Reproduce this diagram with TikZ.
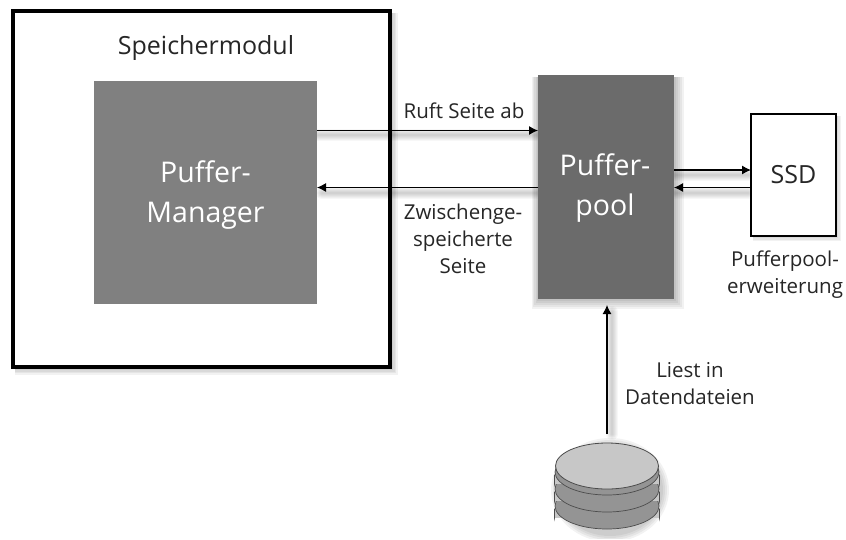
\documentclass[tikz,border=0pt]{standalone}
\usepackage{fontspec}
\setmainfont{Open Sans}
\usetikzlibrary{arrows.meta}
\tikzset{
  x=1pt,y=-1pt,
  lbl/.style={align=center,text=black!85,font=\fontsize{20.5}{27}\selectfont,inner sep=0pt},
  big/.style={align=center,text=white,font=\fontsize{28.5}{40}\selectfont,inner sep=0pt},
  conn/.style={line width=1.1pt,-{Latex[length=9pt,width=9pt]}},
  glow/.style={fill=black,opacity=0.05,draw=none},
  glowline/.style={draw=black,opacity=0.03,line cap=round},
  side/.style={fill=black!22,draw=black!70,line width=0.8pt},
  rim/.style={fill=black!42,draw=black!70,line width=0.7pt},
}
\begin{document}
\begin{tikzpicture}
\useasboundingbox (0,0) rectangle (846,539);
\fill[white] (0,0) rectangle (846,539);
% frame shadow
\foreach \d in {1,2.5,4,5.5}{\fill[glow] (15,13) rectangle (392+\d,369+\d);}
% outer frame
\node[draw=black,line width=4pt,fill=white,minimum width=377pt,minimum height=356pt,inner sep=0pt,anchor=north west,outer sep=0pt] (modul) at (13,11) {};
\node[lbl,font=\fontsize{25}{28}\selectfont] (modullbl) at (206,48) {Speichermodul};
% connector shadows
\foreach \w in {2,4,6,8,10,12}{
  \draw[glowline,line width=\w pt] (318,135) -- (536,135);
  \draw[glowline,line width=\w pt] (322,193) -- (536,193);
  \draw[glowline,line width=\w pt] (676,175) -- (748,175);
  \draw[glowline,line width=\w pt] (676,193) -- (748,193);
  \draw[glowline,line width=\w pt] (612,312) -- (612,434);
}
% pool shadow
\foreach \d in {2,4,6,8,10}{\fill[glow] (538-0.6*\d,77) rectangle (674+\d,299+\d);}
\fill[white] (400,157) rectangle (532,183);
% manager
\node[fill=black!50,minimum width=223pt,minimum height=223pt,inner sep=0pt,outer sep=0pt,anchor=north west] (mgr) at (94,81) {};
\node[big] (mgrtxt) at ([yshift=-3pt]mgr.center) {Puffer-\\Manager};
% pool
\node[fill=black!58,minimum width=136pt,minimum height=224pt,inner sep=0pt,outer sep=0pt,anchor=north west] (pool) at (538,75) {};
\node[big] (pooltxt) at ([xshift=-1pt,yshift=-1pt]pool.center) {Puffer-\\pool};
% ssd
\foreach \d in {1,2.5,4}{\fill[glow] (753,116) rectangle (837+\d,237+\d);}
\node[draw=black,line width=2pt,fill=white,minimum width=85pt,minimum height=122pt,inner sep=0pt,outer sep=0pt,anchor=north west,lbl,font=\fontsize{25}{28}\selectfont] (ssd) at (751,114) {SSD};
\node[lbl] (erw) at (785,275) {Pufferpool-\\erweiterung};
% database
\coordinate (dbtop) at (607,434);
\begin{scope}
\clip (530,436) rectangle (690,538.5);
\foreach \d in {2,4,6,8}{
  \fill[glow] (610,490) ellipse[x radius=51+\d,y radius=44+\d];
}
\foreach \b in {541,524,507}{
  \draw[side] (554.5,\b-32) -- (554.5,\b-23) arc[start angle=180,end angle=360,x radius=52.5,y radius=23] -- (659.5,\b-32) -- cycle;
  \fill[black!22] (555,\b-32) rectangle (659,\b-23);
  \draw[rim] (607,\b-35) ellipse[x radius=52,y radius=23];
}
\draw[side] (607,466) ellipse[x radius=51.5,y radius=23];
\end{scope}
% connectors
\draw[conn] (mgr.east |- 0,130.5) -- (pool.west |- 0,130.5);
\draw[conn] (pool.west |- 0,187.5) -- (mgr.east |- 0,187.5);
\draw[conn] (pool.east |- 0,170) -- (ssd.west |- 0,170);
\draw[conn] (ssd.west |- 0,187.5) -- (pool.east |- 0,187.5);
\draw[conn,shorten >=6pt] (dbtop) -- (dbtop |- pool.south);
\node[lbl] (l1) at (464,111) {Ruft Seite ab};
\node[lbl] (l2) at (463,239) {Zwischenge-\\speicherte\\Seite};
\node[lbl] (l3) at (690,384) {Liest in\\Datendateien};
\end{tikzpicture}
\end{document}
